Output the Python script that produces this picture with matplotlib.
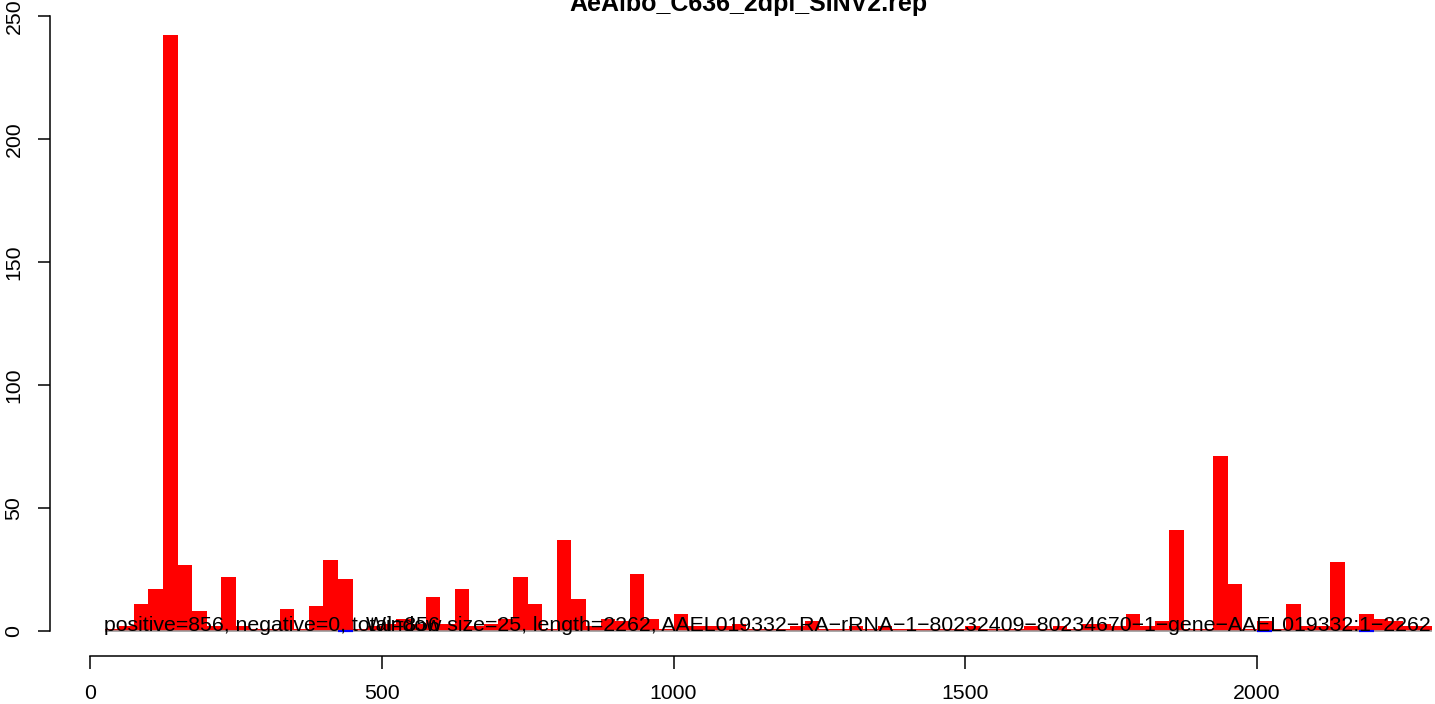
import matplotlib
matplotlib.use("Agg")
import matplotlib.pyplot as plt

plt.rcParams['font.family'] = ['Liberation Sans', 'DejaVu Sans']

title = "AeAlbo_C636_2dpi_SINV2.rep"
window = 25
bin_starts = list(range(0, 2300, 25))  # 92 windows
pos_counts = [0, 1, 2, 11, 17, 242, 27, 8, 2, 22,
              2, 1, 1, 9, 1, 10, 29, 21, 1, 2,
              3, 5, 3, 14, 3, 17, 2, 3, 5, 22,
              11, 1, 37, 13, 2, 5, 4, 23, 5, 1,
              7, 2, 2, 2, 3, 1, 1, 1, 2, 4,
              1, 1, 2, 1, 2, 1, 1, 1, 1, 1,
              2, 1, 1, 1, 2, 1, 2, 1, 3, 3,
              2, 7, 2, 4, 41, 1, 1, 71, 19, 1,
              4, 1, 11, 2, 2, 28, 2, 7, 5, 4,
              2, 2]
neg_starts = [425, 2000, 2175]
neg_counts = [0, 0, 0]
xticks = [0, 500, 1000, 1500, 2000]
yticks = [0, 50, 100, 150, 200, 250]
stats_text = "positive=856, negative=0, total=856"
info_text = ("Window size=25, length=2262, AAEL019332\u2212RA\u2212rRNA\u22121\u2212"
             "80232409\u221280234670\u22121\u2212gene\u2212AAEL019332:1\u22122262")

W, H = 1435, 704
fig = plt.figure(figsize=(W / 100, H / 100), dpi=100)
ax = fig.add_axes([0, 0, 1, 1])

# pixel -> data mapping
x0_px, xs = 90.0, 0.5835
y0_px, ys = 631.0, 2.461
ax.set_xlim((0 - x0_px) / xs, (W - x0_px) / xs)
ax.set_ylim((y0_px - H) / ys, y0_px / ys)

ax.bar(bin_starts, pos_counts, width=window, align='edge', color='#FF0000',
       edgecolor='none', linewidth=0, zorder=2)
ax.hlines(0, bin_starts[1], bin_starts[-1] + window, color='#9a9a9a', lw=1.2, zorder=3)
for s, c in zip(neg_starts, neg_counts):
    ax.hlines(-c, s, s + window, color='#0000FF', lw=1.6, zorder=4)

for sp in ['top', 'right']:
    ax.spines[sp].set_visible(False)
ax.spines['left'].set_position(('data', (50 - x0_px) / xs))
ax.spines['left'].set_bounds(0, 250)
ax.spines['bottom'].set_position(('data', (y0_px - 656) / ys))
ax.spines['bottom'].set_bounds(0, 2000)
for sp in ['left', 'bottom']:
    ax.spines[sp].set_linewidth(1.1)

ax.set_xticks(xticks)
ax.set_xticklabels([str(v) for v in xticks])
ax.set_yticks(yticks)
ax.set_yticklabels([str(v) for v in yticks], rotation=90, va='center')
ax.tick_params(axis='both', direction='out', length=9, width=1.1, labelsize=15.3)
ax.tick_params(axis='x', pad=11)
ax.tick_params(axis='y', pad=10)

ax.text(24, 0, stats_text, ha='left', va='baseline', fontsize=15.3, color='black', zorder=5)
ax.text(1385.7, 0, info_text, ha='center', va='baseline', fontsize=15.3, color='black', zorder=5)

fig.text(748 / W, 1 - 11 / H, title, ha='center', va='baseline', fontsize=18,
         fontweight='bold')

fig.savefig("out.png", dpi=100)
